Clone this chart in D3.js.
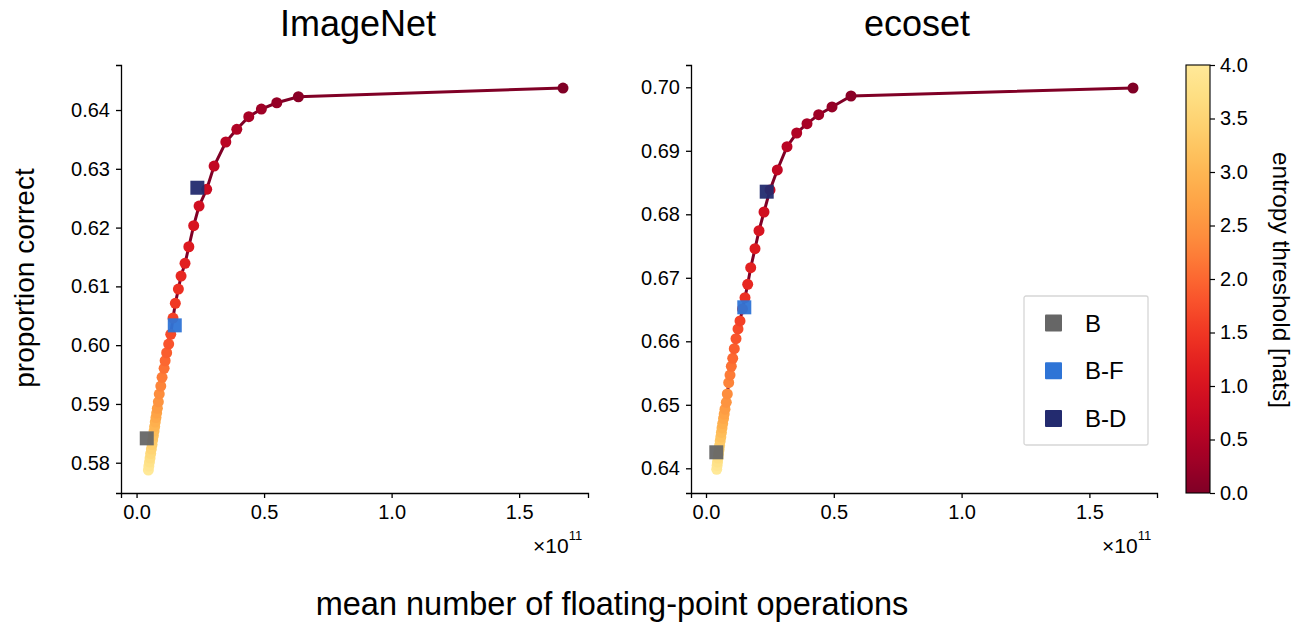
<!DOCTYPE html>
<html>
<head>
<meta charset="utf-8">
<script src="https://cdn.jsdelivr.net/npm/d3@7"></script>
<style>
  body { margin: 0; background: #fff; }
  svg text { font-family: "Liberation Sans", Arial, sans-serif; fill: #000; }
</style>
</head>
<body>
<svg id="chart" width="1301" height="622"></svg>
<script>
    // entropy thresholds, one per point on each curve
    var thresholds = [0.0, 0.1, 0.2, 0.3, 0.4, 0.5, 0.6, 0.7, 0.8, 0.9, 1.0, 1.1, 1.2, 1.3, 1.4, 1.5, 1.6, 1.7, 1.8, 1.9, 2.0,
                      2.1, 2.2, 2.3, 2.4, 2.5, 2.6, 2.7, 2.8, 2.9, 3.0, 3.1, 3.2, 3.3, 3.4, 3.5, 3.6, 3.7, 3.8, 3.9, 4.0];

    // mean flops (x 1e11) and accuracy, ImageNet
    var imagenetFlops = [1.672, 0.6345, 0.5498, 0.4894, 0.440, 0.393, 0.350, 0.304, 0.275, 0.245, 0.224, 0.205, 0.190, 0.1745,
                         0.164, 0.152, 0.143, 0.134, 0.126, 0.118, 0.112, 0.108, 0.100, 0.095, 0.089, 0.0855, 0.0816, 0.0788,
                         0.0761, 0.0733, 0.0710, 0.0686, 0.0659, 0.0631, 0.0608, 0.0580, 0.0553, 0.0529, 0.0506, 0.0482, 0.0463];
    var imagenetAcc = [0.64374, 0.64226, 0.64124, 0.64017, 0.63886, 0.63672, 0.63456, 0.63047, 0.62651, 0.62367, 0.62032,
                       0.61674, 0.61392, 0.61176, 0.60955, 0.60711, 0.6046, 0.60184, 0.60019, 0.59871, 0.59735, 0.59606,
                       0.59453, 0.59305, 0.59168, 0.59037, 0.58925, 0.58845, 0.58769, 0.58692, 0.58616, 0.58539, 0.58462,
                       0.58386, 0.58309, 0.58233, 0.58156, 0.58080, 0.58012, 0.57944, 0.57875];

    // ecoset
    var ecosetFlops = [1.6706, 0.5673, 0.4930, 0.4409, 0.3952, 0.3549, 0.3169, 0.2790, 0.2504, 0.2269, 0.2074, 0.1917, 0.1749,
                       0.1631, 0.1526, 0.1428, 0.1330, 0.1252, 0.1174, 0.1107, 0.1045, 0.0990, 0.0939, 0.0888, 0.0833, 0.0794,
                       0.0743, 0.0712, 0.0685, 0.0653, 0.0626, 0.0603, 0.0579, 0.0556, 0.0532, 0.0513, 0.0489, 0.0469, 0.0450,
                       0.0434, 0.0419];
    var ecosetAcc = [0.69989, 0.69863, 0.69690, 0.69569, 0.69427, 0.69280, 0.69065, 0.68698, 0.68383, 0.68036, 0.67742,
                     0.67458, 0.67159, 0.66898, 0.66687, 0.66509, 0.66320, 0.66194, 0.66041, 0.65884, 0.65732, 0.65606,
                     0.65469, 0.65348, 0.65170, 0.65039, 0.64931, 0.64855, 0.64784, 0.64705, 0.64635, 0.64564, 0.64493,
                     0.64430, 0.64359, 0.64296, 0.64225, 0.64162, 0.64099, 0.64044, 0.63984];

    // baseline models
    var modelNames = ["B", "B-F", "B-D"];
    var modelColors = ["#666666", "#2e74d6", "#232b6f"];
    var imagenetModelFlops = [0.040, 0.1498, 0.2384];
    var imagenetModelAcc = [0.58415, 0.60337, 0.62678];
    var ecosetModelFlops = [0.0403, 0.1498, 0.2375];
    var ecosetModelAcc = [0.64252, 0.66535, 0.68356];

    var imagenetTicks = [0.58, 0.59, 0.60, 0.61, 0.62, 0.63, 0.64];
    var ecosetTicks = [0.64, 0.65, 0.66, 0.67, 0.68, 0.69, 0.70];
    var flopTicks = [0.0, 0.5, 1.0, 1.5];
    var cbarTicks = [0.0, 0.5, 1.0, 1.5, 2.0, 2.5, 3.0, 3.5, 4.0];

    var svg = d3.select("#chart");

    // YlOrRd reversed, top cut off a little
    var colorOf = function (v) { return d3.interpolateYlOrRd(1 - v / 4 * 0.85); };

    var panels = [
        {title: "ImageNet", titleX: 358, flops: imagenetFlops, acc: imagenetAcc, mFlops: imagenetModelFlops, mAcc: imagenetModelAcc,
         ticks: imagenetTicks, left: 121, right: 588, xdom: [-0.061, 1.77], ydom: [0.57485, 0.64766]},
        {title: "ecoset", titleX: 917, flops: ecosetFlops, acc: ecosetAcc, mFlops: ecosetModelFlops, mAcc: ecosetModelAcc,
         ticks: ecosetTicks, left: 691, right: 1157, xdom: [-0.0587, 1.7645], ydom: [0.63611, 0.70351]}
    ];
    var plotTop = 65, plotBottom = 493;

    panels.forEach(function (p) {
        var x = d3.scaleLinear().domain(p.xdom).range([p.left, p.right]);
        var y = d3.scaleLinear().domain(p.ydom).range([plotBottom, plotTop]);
        var g = svg.append("g");

        var xAxis = g.append("g").attr("transform", "translate(0," + plotBottom + ")")
            .call(d3.axisBottom(x).tickValues(flopTicks).tickFormat(d3.format(".1f")).tickSizeOuter(0).tickSize(5));
        var yAxis = g.append("g").attr("transform", "translate(" + p.left + ",0)")
            .call(d3.axisLeft(y).tickValues(p.ticks).tickFormat(d3.format(".2f")).tickSizeOuter(0).tickSize(5));
        [xAxis, yAxis].forEach(function (a) {
            a.select(".domain").attr("stroke-width", 1.3);
            a.selectAll(".tick line").attr("stroke-width", 1.3);
            a.selectAll(".tick text").style("font-size", "20px");
        });
        xAxis.selectAll(".tick text").attr("y", 12);
        yAxis.selectAll(".tick text").attr("x", -11);

        g.append("text").attr("x", p.titleX).attr("y", 36)
            .attr("text-anchor", "middle").style("font-size", "36px").text(p.title);

        // x10^11 offset label
        var off = g.append("text").attr("x", p.right - 55).attr("y", 553).style("font-size", "21px");
        off.append("tspan").text("\u00d710");
        off.append("tspan").attr("dy", -13).style("font-size", "13px").text("11");

        var pts = thresholds.map(function (t, i) { return {t: t, f: p.flops[i], a: p.acc[i]}; });

        g.append("path").datum(pts)
            .attr("d", d3.line().x(function (d) { return x(d.f); }).y(function (d) { return y(d.a); }))
            .attr("fill", "none").attr("stroke", "#800026").attr("stroke-width", 3);

        g.selectAll(".dot").data(pts.slice().reverse()).enter().append("circle")
            .attr("class", "dot")
            .attr("cx", function (d) { return x(d.f); })
            .attr("cy", function (d) { return y(d.a); })
            .attr("r", 5.5)
            .attr("fill", function (d) { return colorOf(d.t); });

        g.selectAll(".model").data(modelNames).enter().append("rect")
            .attr("class", "model")
            .attr("x", function (d, i) { return x(p.mFlops[i]) - 7; })
            .attr("y", function (d, i) { return y(p.mAcc[i]) - 7; })
            .attr("width", 14).attr("height", 14)
            .attr("fill", function (d, i) { return modelColors[i]; })
            .attr("opacity", 0.95);
    });

    // legend
    var leg = svg.append("g").attr("transform", "translate(1024,296)");
    leg.append("rect").attr("width", 124).attr("height", 149).attr("rx", 2)
        .attr("fill", "#fff").attr("stroke", "#d6d6d6").attr("stroke-width", 1.3);
    modelNames.forEach(function (n, i) {
        var yy = 27 + i * 47.7;
        leg.append("rect").attr("x", 21).attr("y", yy - 8.5).attr("width", 17).attr("height", 17)
            .attr("rx", 1).attr("fill", modelColors[i]);
        leg.append("text").attr("x", 61).attr("y", yy + 8.5).style("font-size", "24px").text(n);
    });

    // colorbar
    var cb = d3.scaleLinear().domain([0, 4]).range([plotBottom, plotTop]);
    var grad = svg.append("defs").append("linearGradient").attr("id", "cbgrad")
        .attr("x1", 0).attr("y1", 1).attr("x2", 0).attr("y2", 0);
    d3.range(0, 4.001, 0.1).forEach(function (v) {
        grad.append("stop").attr("offset", v / 4).attr("stop-color", colorOf(v));
    });
    svg.append("rect").attr("x", 1186).attr("y", plotTop).attr("width", 24).attr("height", plotBottom - plotTop)
        .attr("fill", "url(#cbgrad)").attr("stroke", "#000").attr("stroke-width", 1.1);
    var cbAxis = svg.append("g").attr("transform", "translate(1210,0)")
        .call(d3.axisRight(cb).tickValues(cbarTicks).tickFormat(d3.format(".1f")).tickSize(5).tickSizeOuter(0));
    cbAxis.select(".domain").remove();
    cbAxis.selectAll(".tick line").attr("stroke-width", 1.2);
    cbAxis.selectAll(".tick text").style("font-size", "20px").attr("x", 10);

    svg.append("text").attr("transform", "translate(1273,280) rotate(90)")
        .attr("text-anchor", "middle").style("font-size", "24.5px").text("entropy threshold [nats]");

    // shared axis labels
    svg.append("text").attr("transform", "translate(34,278) rotate(-90)")
        .attr("text-anchor", "middle").style("font-size", "28px").text("proportion correct");
    svg.append("text").attr("x", 612).attr("y", 615)
        .attr("text-anchor", "middle").style("font-size", "32.5px").text("mean number of floating-point operations");
</script>
</body>
</html>
